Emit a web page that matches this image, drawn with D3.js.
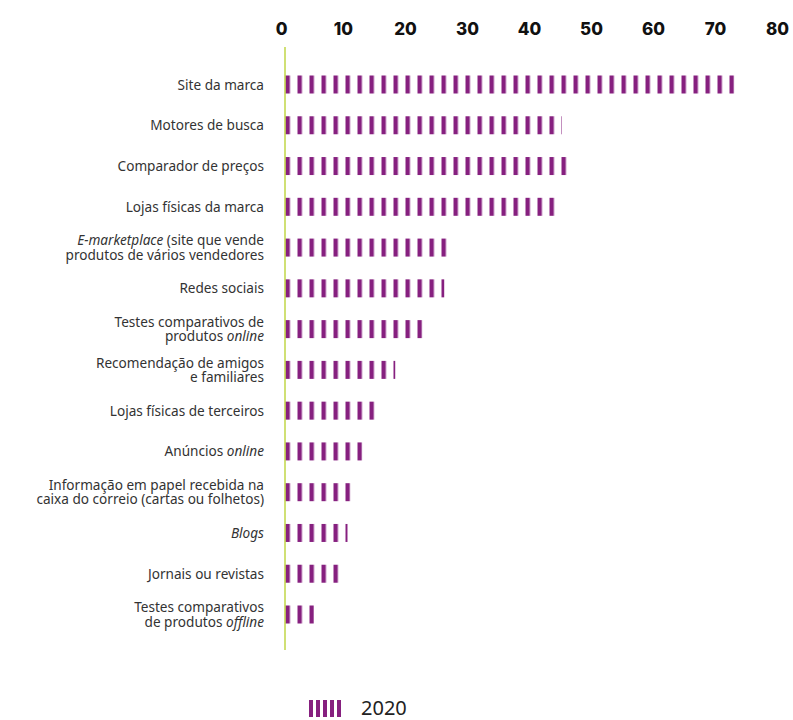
<!DOCTYPE html>
<html>
<head>
<meta charset="utf-8">
<title>Fontes de informação</title>
<style>
body { margin: 0; background: #fff; }
.cat { font-family: "Noto Sans", sans-serif; font-size: 13.6px; fill: #333; }
.tick text { font-family: Inter, sans-serif; font-weight: 800; font-size: 17px; fill: #111; }
.legend text { font-family: "Noto Sans", sans-serif; font-size: 20px; fill: #222; }
</style>
</head>
<body>
<svg width="793" height="720"></svg>
<script src="https://cdn.jsdelivr.net/npm/d3@7"></script>
<script>
// categories: "|" splits lines, *...* marks italic text
let categories = [
  "Site da marca",
  "Motores de busca",
  "Comparador de preços",
  "Lojas físicas da marca",
  "*E-marketplace* (site que vende|produtos de vários vendedores",
  "Redes sociais",
  "Testes comparativos de|produtos *online*",
  "Recomendação de amigos|e familiares",
  "Lojas físicas de terceiros",
  "Anúncios *online*",
  "Informação em papel recebida na|caixa do correio (cartas ou folhetos)",
  "*Blogs*",
  "Jornais ou revistas",
  "Testes comparativos |de produtos *offline*"
];
let values2020 = [72.8, 45.0, 45.8, 43.9, 26.5, 26.0, 22.5, 18.1, 14.8, 12.8, 10.9, 10.4, 9.0, 5.0];
let tickValues = [0, 10, 20, 30, 40, 50, 60, 70, 80];
let seriesName = "2020";

let purple = "#86207f";
let green = "#b7cf2a";

let svg = d3.select("svg");

let x = d3.scaleLinear().domain([0, 80]).range([283, 779]);
let y = d3.scalePoint().domain(d3.range(categories.length)).range([84.5, 614.5]);
let barH = 18;

// striped pattern for the bars
let defs = svg.append("defs");
let pat = defs.append("pattern")
  .attr("id", "stripes")
  .attr("patternUnits", "userSpaceOnUse")
  .attr("x", 285.5).attr("y", 0)
  .attr("width", 12).attr("height", 10);
pat.append("rect").attr("x", 0).attr("y", 0).attr("width", 4.4).attr("height", 10).attr("fill", purple);

// top axis
let axis = svg.append("g")
  .attr("transform", "translate(0,30)")
  .call(d3.axisTop(x).tickValues(tickValues).tickSize(0).tickPadding(0));
axis.select(".domain").remove();
axis.selectAll("text").attr("dx", -2).attr("dy", 5);

// bars
svg.append("g").selectAll("rect")
  .data(values2020)
  .join("rect")
  .attr("x", x(0))
  .attr("y", (d, i) => y(i) - barH / 2)
  .attr("width", d => x(d) - x(0))
  .attr("height", barH)
  .attr("fill", "url(#stripes)");

// vertical baseline
svg.append("line")
  .attr("x1", 285).attr("x2", 285)
  .attr("y1", 47).attr("y2", 650)
  .attr("stroke", green).attr("stroke-width", 1.3);

// category labels, one text per line
let lineData = [];
categories.forEach((c, i) => {
  let lines = c.split("|");
  lines.forEach((line, j) => {
    lineData.push({ text: line, y: y(i) + 5 + (j - (lines.length - 1) / 2) * 14.5 });
  });
});

svg.append("g").selectAll("text")
  .data(lineData)
  .join("text")
  .attr("class", "cat")
  .attr("text-anchor", "end")
  .attr("x", 264)
  .attr("y", d => d.y)
  .each(function(d) {
    let t = d3.select(this);
    d.text.split("*").forEach((p, k) => {
      if (p === "") return;
      let ts = t.append("tspan").text(p);
      if (k % 2 === 1) ts.attr("font-style", "italic");
    });
  });

// legend
let lg = svg.append("g").attr("class", "legend");
lg.selectAll("rect")
  .data(d3.range(5))
  .join("rect")
  .attr("x", d => 309 + d * 7)
  .attr("y", 700)
  .attr("width", 4)
  .attr("height", 17)
  .attr("fill", purple);
lg.append("text").attr("x", 361).attr("y", 715).text(seriesName);
</script>
</body>
</html>
